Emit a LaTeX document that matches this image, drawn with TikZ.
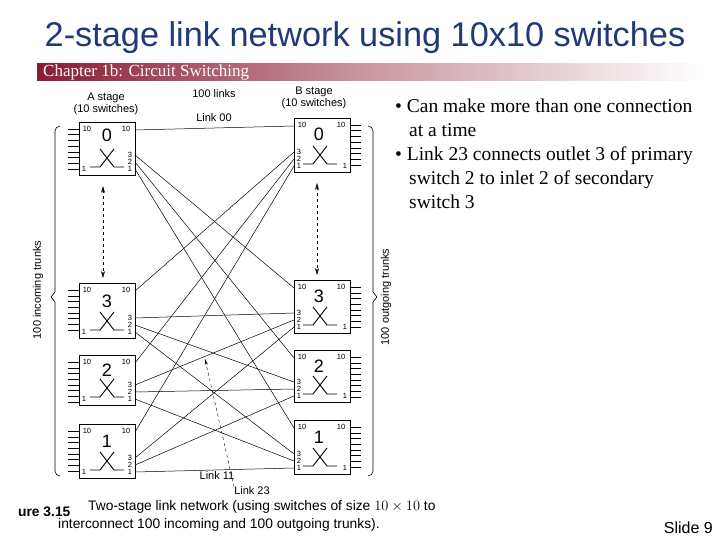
\documentclass[tikz,border=0pt]{standalone}
\usepackage{fontspec}
\setmainfont{Liberation Serif}
\newfontfamily\arial{Liberation Sans}
\usetikzlibrary{arrows.meta}
\definecolor{titleblue}{HTML}{1F3A78}
\definecolor{barred}{HTML}{8A1C32}
\tikzset{box/.style={draw,line width=1.1pt,fill=white,inner sep=0pt,minimum width=56pt,minimum height=54pt,anchor=north west},
 tiny/.style={font=\arial\fontsize{7.5}{7.5}\selectfont,inner sep=0pt},
 num/.style={font=\arial\fontsize{18}{18}\selectfont,inner sep=0pt},
 lbl/.style={font=\arial\fontsize{11}{12.5}\selectfont,inner sep=0pt,align=center},
 link/.style={line width=0.5pt},
 captext/.style={font=\arial\fontsize{13.8}{14}\selectfont,anchor=west,inner sep=0pt},
 bullet/.style={font=\fontsize{19.5}{24}\selectfont,anchor=north west,align=left,inner sep=0pt}}
\newcommand\xmark[2]{\draw[line width=0.9pt] (#1-7,#2-10)--(#1+7,#2+8)--(#1+17,#2+8) (#1+7,#2-10)--(#1-7,#2+8)--(#1-17,#2+8);}
\newcommand\swA[4]{%
 \foreach \k in {0,...,7} \draw (#2-11,#3+7+\k*5.7)--(#2,#3+7+\k*5.7);
 \node[box,minimum height=#4pt] (#1) at (#2,#3) {};
 \coordinate (#1-10) at (#2+56,#3+8);
 \coordinate (#1-3) at (#2+56,#3+#4-20);
 \coordinate (#1-2) at (#2+56,#3+#4-13);
 \coordinate (#1-1) at (#2+56,#3+#4-6);
 \node[tiny] at (#2+8,#3+7) {10}; \node[tiny] at (#2+47,#3+7) {10};
 \node[tiny] at (#2+51,#3+#4-20) {3}; \node[tiny] at (#2+51,#3+#4-13) {2}; \node[tiny] at (#2+51,#3+#4-6) {1};
 \node[tiny] at (#2+5,#3+#4-6) {1};
}
\newcommand\swB[4]{%
 \foreach \k in {0,...,7} \draw (#2+56,#3+7+\k*5.7)--(#2+67,#3+7+\k*5.7);
 \node[box,minimum height=#4pt] (#1) at (#2,#3) {};
 \coordinate (#1-10) at (#2,#3+8);
 \coordinate (#1-3) at (#2,#3+#4-20);
 \coordinate (#1-2) at (#2,#3+#4-13);
 \coordinate (#1-1) at (#2,#3+#4-6);
 \node[tiny] at (#2+8,#3+7) {10}; \node[tiny] at (#2+47,#3+7) {10};
 \node[tiny] at (#2+5,#3+#4-20) {3}; \node[tiny] at (#2+5,#3+#4-13) {2}; \node[tiny] at (#2+5,#3+#4-6) {1};
 \node[tiny] at (#2+51,#3+#4-6) {1};
}
\begin{document}
\begin{tikzpicture}[x=1pt,y=-1pt]
\useasboundingbox (0,0) rectangle (720,540);
\fill[white] (0,0) rectangle (720,540);
\node[font=\arial\fontsize{34.3}{34}\selectfont,text=titleblue] (title) at (365,38) {2-stage link network using 10x10 switches};
\shade[left color=barred,right color=white,middle color=barred!45] (37,64) rectangle (705,81);
\node[anchor=west,text=white,font=\fontsize{17}{17}\selectfont,inner sep=0pt] (chap) at (43,72.5) {Chapter 1b: Circuit Switching};
% switches
\swA{A0}{79}{122}{53}
\swA{A3}{79}{283}{55}
\swA{A2}{79}{355}{50}
\swA{A1}{79}{424}{54}
\swB{B0}{294}{118}{54}
\swB{B3}{294}{280}{53}
\swB{B2}{294}{350}{52}
\swB{B1}{294}{420}{54}
% links
\foreach \i/\pi in {0/10,1/1,2/2,3/3}
 \foreach \j/\pj in {0/10,1/1,2/2,3/3}
  \draw[link] (A\i-\pj) -- (B\j-\pi);
\foreach \n/\x/\y/\t in {A0/107/135/0,A3/107/301/3,A2/107/370/2,A1/107/441/1,B0/319/134/0,B3/319/296/3,B2/319/366/2,B1/319/437/1}
  \node[num] (n\n) at (\x,\y) {\t};
\foreach \x/\y in {107/159,107/322,107/389,107/462,320/156,320/317,320/386,320/458} \xmark{\x}{\y}
% dashed arrows
\coordinate (da1) at (103,186); \coordinate (da2) at (103,278);
\coordinate (db1) at (317,183); \coordinate (db2) at (317,275);
\draw[dashed,line width=0.5pt,{Stealth[length=7pt,width=4pt]}-{Stealth[length=7pt,width=4pt]}] (da1)--(da2);
\draw[dashed,line width=0.5pt,{Stealth[length=7pt,width=4pt]}-{Stealth[length=7pt,width=4pt]}] (db1)--(db2);
% braces
\draw[line width=0.6pt] (60,126) to[out=180,in=90] (55,131) -- (55,292) -- (51,297) -- (55,302) -- (55,471) to[out=-90,in=180] (60,476);
\draw[line width=0.6pt] (368,126) to[out=0,in=90] (373,131) -- (373,292) -- (377,297) -- (373,302) -- (373,471) to[out=-90,in=0] (368,476);
\node[lbl,rotate=90] (inc) at (38,290) {100 incoming trunks};
\node[lbl,rotate=90] (outg) at (386,297) {100 outgoing trunks};
% labels
\node[lbl] (ast) at (106,104) {A stage\\(10 switches)};
\node[lbl] (bst) at (314,98) {B stage\\(10 switches)};
\node[lbl] (l100) at (214,94) {100 links};
\node[lbl] (l00) at (214,118) {Link 00};
\node[lbl] (l11) at (217,476) {Link 11};
\node[lbl] (l23) at (252,491) {Link 23};
\coordinate (l23t) at (205,359);
\draw[dashed,line width=0.4pt,-{Stealth[length=6pt,width=3pt]}] (l23.north west) -- (l23t);
\node[captext,font=\arial\bfseries\fontsize{13.8}{14}\selectfont] (fig) at (18,512) {ure 3.15};
\node[captext] (cap1) at (88,507) {Two-stage link network (using switches of size $10\times10$ to};
\node[captext] (cap2) at (58,525) {interconnect 100 incoming and 100 outgoing trunks).};
% bullets
\node[bullet] (b1) at (395,99) {\textbullet\ Can make more than one connection\\\hspace*{14pt}at a time\\\textbullet\ Link 23 connects outlet 3 of primary\\\hspace*{14pt}switch 2 to inlet 2 of secondary\\\hspace*{14pt}switch 3};
\node[font=\arial\fontsize{16}{16}\selectfont,anchor=east,inner sep=0pt] (slide) at (713,528) {Slide 9};
\end{tikzpicture}
\end{document}
